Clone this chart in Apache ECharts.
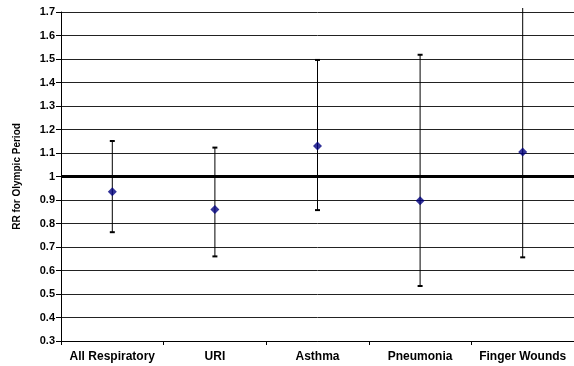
<!DOCTYPE html>
<html><head><meta charset="utf-8">
<script src="https://cdn.jsdelivr.net/npm/echarts@6/dist/echarts.min.js"></script>
<style>html,body{margin:0;padding:0;background:#fff}#c{width:574px;height:366px}</style>
</head><body><div id="c"></div>
<script>
const categories = ['All Respiratory', 'URI', 'Asthma', 'Pneumonia', 'Finger Wounds'];
const rr = [0.935, 0.86, 1.13, 0.897, 1.104];
const lower = [0.763, 0.66, 0.857, 0.534, 0.656];
const upper = [1.151, 1.123, 1.496, 1.518, 1.9];
const yTicks = [0.3, 0.4, 0.5, 0.6, 0.7, 0.8, 0.9, 1, 1.1, 1.2, 1.3, 1.4, 1.5, 1.6, 1.7];

const chart = echarts.init(document.getElementById('c'));
const font = 'Liberation Sans, Arial, sans-serif';
chart.setOption({
  animation: false,
  grid: {left: 61, right: 0, top: 12, bottom: 25},
  xAxis: {
    type: 'category', data: categories, boundaryGap: true,
    axisLine: {lineStyle: {color: '#000', width: 1}},
    axisTick: {show: true, length: 4, interval: 0, lineStyle: {color: '#000'}},
    axisLabel: {color: '#000', fontWeight: 'bold', fontSize: 12, fontFamily: font, margin: 10, interval: 0}
  },
  yAxis: {
    type: 'value', min: 0.3, max: 1.7, interval: 0.1,
    name: 'RR for Olympic Period', nameLocation: 'middle', nameGap: 39,
    nameTextStyle: {color: '#000', fontWeight: 'bold', fontSize: 10, fontFamily: font},
    axisLine: {show: true, lineStyle: {color: '#000', width: 1}},
    axisTick: {show: true, length: 5, lineStyle: {color: '#000'}},
    axisLabel: {color: '#000', fontWeight: 'bold', fontSize: 11, fontFamily: font, margin: 6,
      formatter: v => { const t = yTicks.find(x => Math.abs(x - v) < 1e-6); return t === undefined ? '' : String(t); }},
    splitLine: {show: true, lineStyle: {color: '#222', width: 1}}
  },
  series: [
    {
      type: 'custom',
      clip: false,
      data: categories.map((c, i) => [i, lower[i], upper[i]]),
      renderItem: function (params, api) {
        const x = api.coord([api.value(0), 0])[0];
        const lo = api.coord([api.value(0), api.value(1)])[1];
        let hi = api.coord([api.value(0), api.value(2)])[1];
        const topLimit = params.coordSys.y - 4;
        let clipped = false;
        if (hi < topLimit) { hi = topLimit; clipped = true; }
        const st = {stroke: '#000', lineWidth: 1};
        const children = [
          {type: 'line', shape: {x1: x, y1: lo, x2: x, y2: hi}, style: st},
          {type: 'line', shape: {x1: x - 2.5, y1: lo, x2: x + 2.5, y2: lo}, style: {stroke: '#000', lineWidth: 2}}
        ];
        if (!clipped) children.push({type: 'line', shape: {x1: x - 2.5, y1: hi, x2: x + 2.5, y2: hi}, style: {stroke: '#000', lineWidth: 2}});
        return {type: 'group', children: children};
      },
      z: 3
    },
    {
      type: 'scatter',
      data: rr,
      symbol: 'diamond', symbolSize: [9, 9],
      itemStyle: {color: '#000080'},
      z: 5,
      markLine: {
        silent: true, symbol: 'none', label: {show: false},
        lineStyle: {color: '#000', width: 3, type: 'solid'},
        data: [{yAxis: 1}]
      }
    }
  ]
});
</script></body></html>
